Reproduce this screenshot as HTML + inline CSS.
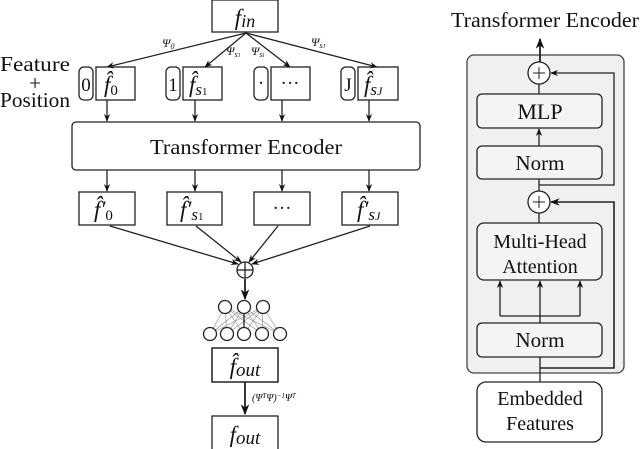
<!DOCTYPE html>
<html><head><meta charset="utf-8"><style>
body{margin:0;background:#fff}
svg{display:block}
text{font-family:"Liberation Serif",serif;fill:#111}
</style></head><body>
<svg width="640" height="449" viewBox="0 0 640 449" xmlns="http://www.w3.org/2000/svg">
<defs>
<marker id="a" viewBox="0 0 10 10" refX="9" refY="5" markerWidth="6" markerHeight="6" orient="auto-start-reverse"><path d="M0,1 L10,5 L0,9 L3,5z" fill="#111"/></marker>
</defs>
<g stroke="#222" stroke-width="1.3" fill="none">
<rect x="212" y="0" width="66" height="32" fill="#fff"/>
<line x1="246" y1="33" x2="107" y2="67" marker-end="url(#a)"/>
<line x1="246" y1="33" x2="205" y2="67" marker-end="url(#a)"/>
<line x1="246" y1="33" x2="290" y2="67" marker-end="url(#a)"/>
<line x1="246" y1="33" x2="377" y2="67" marker-end="url(#a)"/>
<rect x="79" y="67" width="14" height="33" rx="5"/>
<rect x="96" y="67" width="39" height="33"/>
<rect x="166" y="67" width="14" height="33" rx="5"/>
<rect x="183" y="67" width="39" height="33"/>
<rect x="254" y="67" width="14" height="33" rx="5"/>
<rect x="271" y="67" width="39" height="33"/>
<rect x="341" y="67" width="14" height="33" rx="5"/>
<rect x="358" y="67" width="40" height="33"/>
<line x1="107" y1="100" x2="107" y2="121" marker-end="url(#a)"/>
<line x1="195" y1="100" x2="195" y2="121" marker-end="url(#a)"/>
<line x1="282" y1="100" x2="282" y2="121" marker-end="url(#a)"/>
<line x1="369" y1="100" x2="369" y2="121" marker-end="url(#a)"/>
<rect x="72" y="122" width="348" height="48" rx="4"/>
<line x1="107" y1="170" x2="107" y2="191" marker-end="url(#a)"/>
<line x1="195" y1="170" x2="195" y2="191" marker-end="url(#a)"/>
<line x1="282" y1="170" x2="282" y2="191" marker-end="url(#a)"/>
<line x1="369" y1="170" x2="369" y2="191" marker-end="url(#a)"/>
<rect x="79" y="192" width="56" height="33"/>
<rect x="167" y="192" width="55" height="33"/>
<rect x="254" y="192" width="56" height="33"/>
<rect x="342" y="192" width="56" height="33"/>
<line x1="110" y1="226" x2="238" y2="264" marker-end="url(#a)"/>
<line x1="196" y1="226" x2="241" y2="262" marker-end="url(#a)"/>
<line x1="278" y1="226" x2="249" y2="262" marker-end="url(#a)"/>
<line x1="370" y1="226" x2="252" y2="264" marker-end="url(#a)"/>
<circle cx="245" cy="270" r="8"/>
<line x1="237" y1="270" x2="253" y2="270"/><line x1="245" y1="262" x2="245" y2="278"/>
<line x1="245" y1="279" x2="245" y2="299" stroke-width="1.8" marker-end="url(#a)"/>
<g stroke-width="0.6" stroke="#888">
<line x1="225" y1="307" x2="210" y2="334"/><line x1="225" y1="307" x2="227" y2="334"/><line x1="225" y1="307" x2="244" y2="334"/><line x1="225" y1="307" x2="262" y2="334"/><line x1="225" y1="307" x2="280" y2="334"/>
<line x1="244" y1="307" x2="210" y2="334"/><line x1="244" y1="307" x2="227" y2="334"/><line x1="244" y1="307" x2="262" y2="334"/><line x1="244" y1="307" x2="280" y2="334"/>
<line x1="263" y1="307" x2="210" y2="334"/><line x1="263" y1="307" x2="227" y2="334"/><line x1="263" y1="307" x2="244" y2="334"/><line x1="263" y1="307" x2="262" y2="334"/><line x1="263" y1="307" x2="280" y2="334"/>
</g>
<line x1="244" y1="307" x2="244" y2="334"/>
<g fill="#fff">
<circle cx="225" cy="307" r="6.5"/><circle cx="244" cy="307" r="6.5"/><circle cx="263" cy="307" r="6.5"/>
<circle cx="210" cy="334" r="6.5"/><circle cx="227" cy="334" r="6.5"/><circle cx="244" cy="334" r="6.5"/><circle cx="262" cy="334" r="6.5"/><circle cx="280" cy="334" r="6.5"/>
</g>
<rect x="212" y="348" width="66" height="34" stroke-width="1.5"/>
<line x1="245" y1="382" x2="245" y2="414" stroke-width="1.8" marker-end="url(#a)"/>
<rect x="212" y="416" width="66" height="40"/>
<rect x="467" y="55" width="157" height="318" rx="7" fill="#f0f0f0" stroke="#444"/>
<line x1="540" y1="62" x2="540" y2="39" stroke-width="1.8" marker-end="url(#a)"/>
<circle cx="539" cy="73" r="11" fill="#fff"/>
<line x1="539" y1="84" x2="539" y2="94"/>
<rect x="477" y="94" width="125" height="34" rx="5" fill="#f4f4f4"/>
<line x1="539" y1="146" x2="539" y2="129" marker-end="url(#a)"/>
<rect x="477" y="146" width="125" height="33" rx="5" fill="#f4f4f4"/>
<line x1="539" y1="179" x2="539" y2="191"/>
<polyline points="539,185 614,185 614,73 551,73" marker-end="url(#a)"/>
<circle cx="539" cy="202" r="11" fill="#fff"/>
<line x1="539" y1="213" x2="539" y2="223"/>
<rect x="477" y="223" width="125" height="57" rx="7" fill="#f4f4f4"/>
<polyline points="500,316 580,316"/>
<line x1="500" y1="316" x2="500" y2="281" marker-end="url(#a)"/>
<line x1="540" y1="323" x2="540" y2="281" marker-end="url(#a)"/>
<line x1="580" y1="316" x2="580" y2="281" marker-end="url(#a)"/>
<rect x="477" y="323" width="125" height="34" rx="5" fill="#f4f4f4"/>
<line x1="540" y1="357" x2="540" y2="382"/>
<polyline points="540,368 614,368 614,202 551,202" stroke-width="1.6" marker-end="url(#a)"/>
<rect x="477" y="382" width="125" height="60" rx="9" fill="#fff"/>
</g>
<g stroke="#222" stroke-width="1" fill="none">
<line x1="533" y1="73" x2="545" y2="73"/><line x1="539" y1="67" x2="539" y2="79"/>
<line x1="533" y1="202" x2="545" y2="202"/><line x1="539" y1="196" x2="539" y2="208"/>
</g>
<g font-style="italic" font-size="23">
<text x="245" y="25" text-anchor="middle">f<tspan font-size="18" dy="2">in</tspan></text>
<text x="104" y="92">f̂<tspan font-size="15" font-style="normal" dy="3">0</tspan></text>
<text x="189" y="92">f̂<tspan font-size="17" dy="3">s<tspan font-size="11" font-style="normal">1</tspan></tspan></text>
<text x="364" y="92">f̂<tspan font-size="17" dy="3">s<tspan font-size="12">J</tspan></tspan></text>
<text x="94" y="217">f̂′<tspan font-size="15" font-style="normal" dy="3">0</tspan></text>
<text x="180" y="217">f̂′<tspan font-size="17" dy="3">s<tspan font-size="11" font-style="normal">1</tspan></tspan></text>
<text x="357" y="217">f̂′<tspan font-size="17" dy="3">s<tspan font-size="12">J</tspan></tspan></text>
<text x="245" y="374" text-anchor="middle">f̂<tspan font-size="19" dy="2">out</tspan></text>
<text x="245" y="442" text-anchor="middle">f<tspan font-size="19" dy="2">out</tspan></text>
</g>
<g font-size="19">
<text x="86" y="91" text-anchor="middle">0</text>
<text x="173" y="91" text-anchor="middle">1</text>
<text x="261" y="89" text-anchor="middle">·</text>
<text x="348" y="91" text-anchor="middle">J</text>
<text x="290" y="89" text-anchor="middle">···</text>
<text x="282" y="214" text-anchor="middle">···</text>
</g>
<g font-size="12" font-style="italic">
<text x="162" y="47">Ψ<tspan font-size="8" dy="2">0</tspan></text>
<text x="226" y="55">Ψ<tspan font-size="8" dy="2">s<tspan font-size="6">1</tspan></tspan></text>
<text x="251" y="55">Ψ<tspan font-size="8" dy="2">s<tspan font-size="6">i</tspan></tspan></text>
<text x="311" y="46">Ψ<tspan font-size="8" dy="2">s<tspan font-size="6">J</tspan></tspan></text>
<text x="252" y="401" font-size="10">(Ψ<tspan font-size="7" dy="-3">T</tspan><tspan dy="3">Ψ)</tspan><tspan font-size="7" dy="-3">−1</tspan><tspan dy="3">Ψ</tspan><tspan font-size="7" dy="-3">T</tspan></text>
</g>
<g font-size="21">
<text x="35" y="71" text-anchor="middle" textLength="70" lengthAdjust="spacingAndGlyphs">Feature</text>
<text x="35" y="90" text-anchor="middle">+</text>
<text x="35" y="107" text-anchor="middle" textLength="70" lengthAdjust="spacingAndGlyphs">Position</text>
<text x="246" y="154" text-anchor="middle" textLength="192" lengthAdjust="spacingAndGlyphs">Transformer Encoder</text>
<text x="545" y="27" text-anchor="middle" textLength="188" lengthAdjust="spacingAndGlyphs">Transformer Encoder</text>
<text x="540" y="119" text-anchor="middle" font-size="22">MLP</text>
<text x="540" y="170" text-anchor="middle">Norm</text>
<text x="540" y="248" text-anchor="middle" font-size="20">Multi-Head</text>
<text x="540" y="273" text-anchor="middle" font-size="20">Attention</text>
<text x="540" y="347" text-anchor="middle">Norm</text>
<text x="540" y="405" text-anchor="middle" font-size="20">Embedded</text>
<text x="540" y="430" text-anchor="middle" font-size="20">Features</text>
</g>
</svg>
</body></html>
